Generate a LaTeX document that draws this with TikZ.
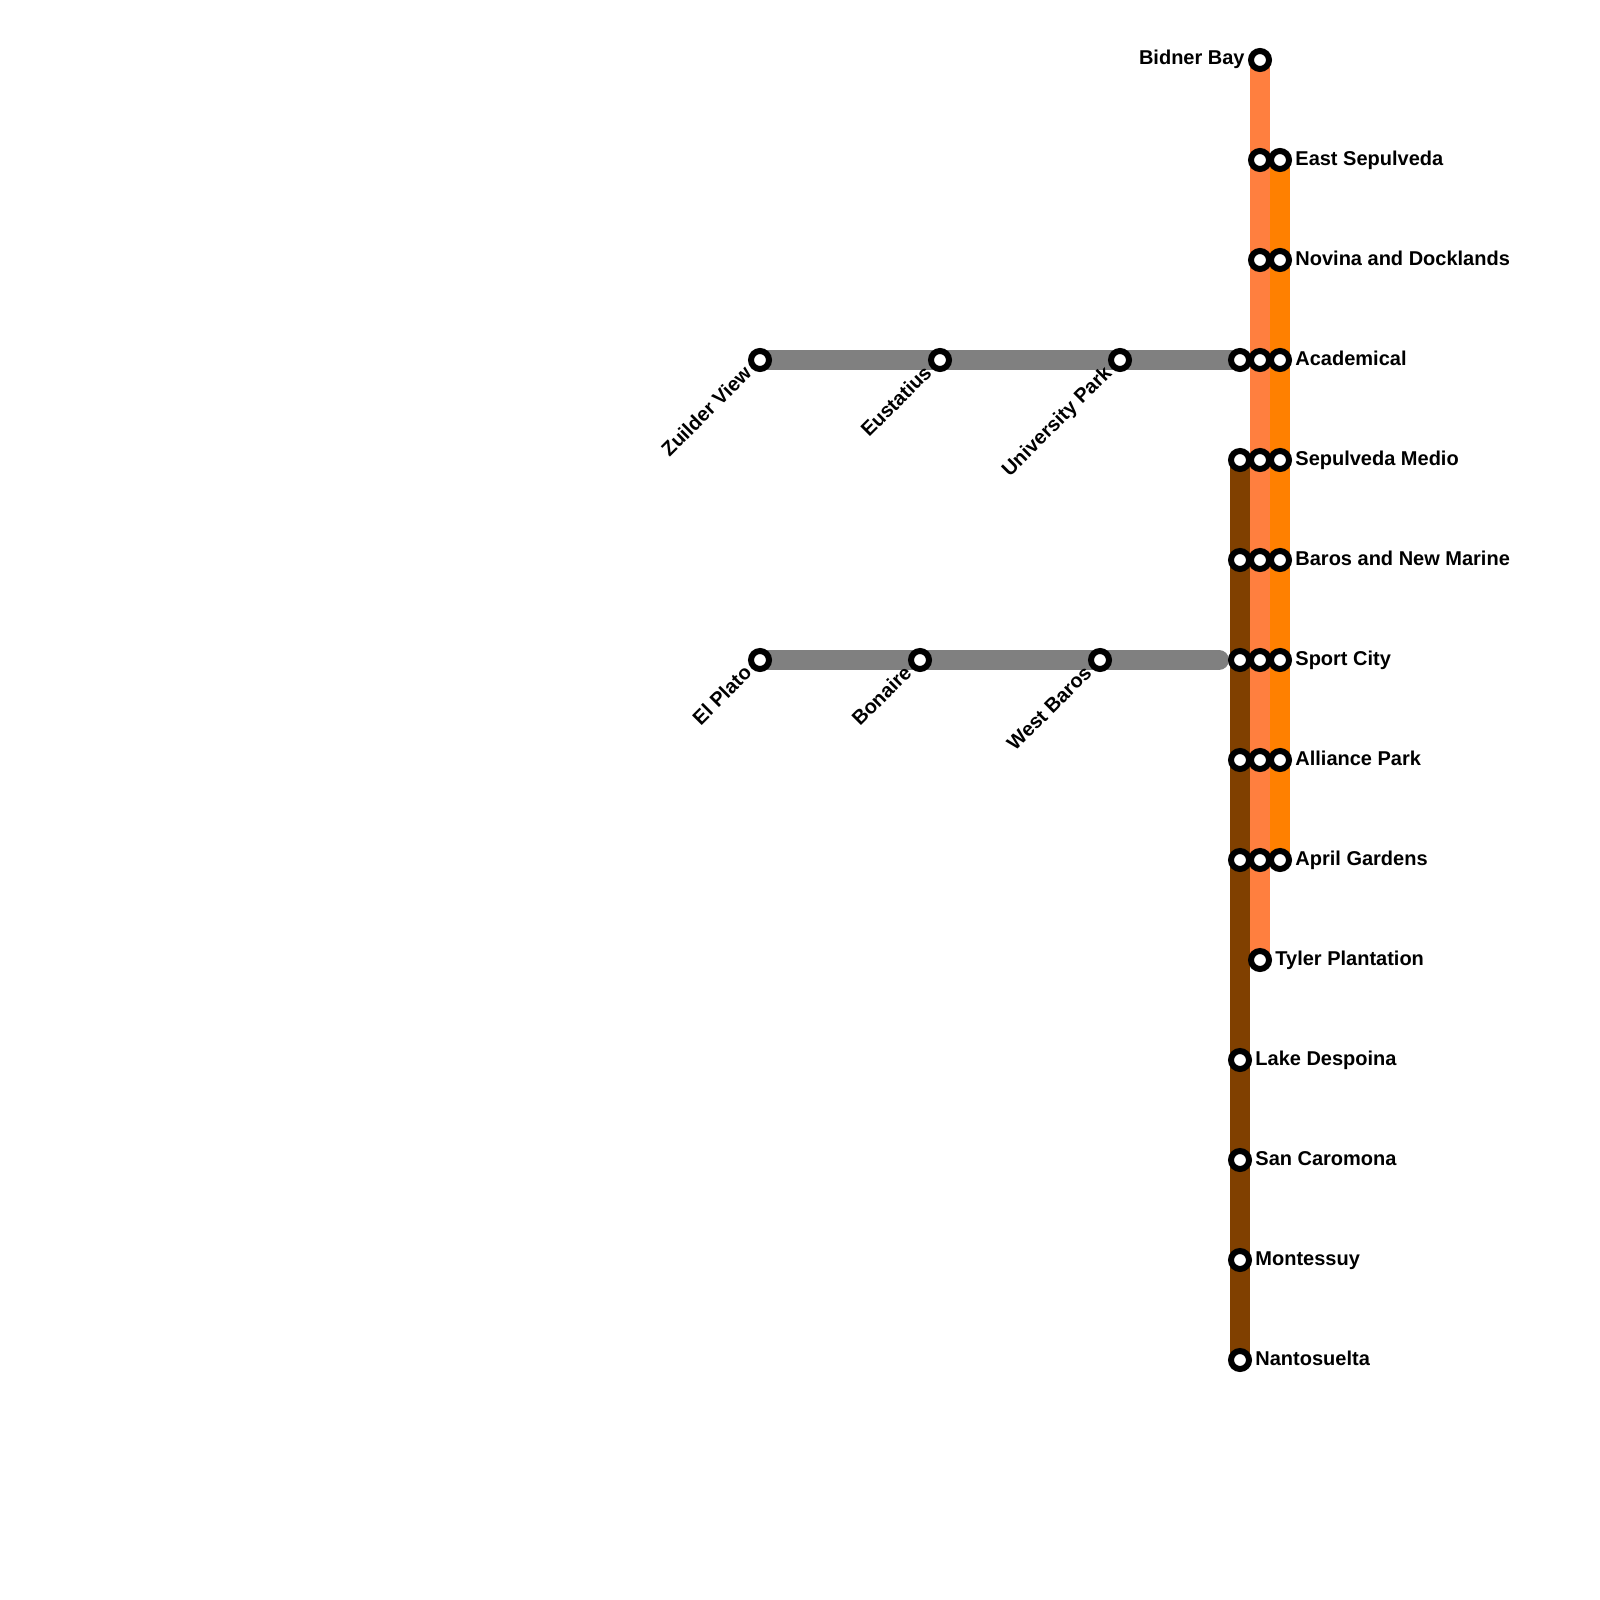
\documentclass[tikz,border=0pt]{standalone}
\usepackage{fontspec}
\setmainfont{Liberation Sans}
\usetikzlibrary{backgrounds}
\definecolor{brownline}{HTML}{804000}
\definecolor{coralline}{HTML}{FF7F3F}
\definecolor{orangeline}{HTML}{FF8000}
\definecolor{greyline}{HTML}{808080}
\tikzset{
  x=0.5pt,y=-0.5pt,
  stn/.style={circle,draw=black,fill=white,line width=3pt,minimum size=9pt,inner sep=0pt,outer sep=0pt},
  route/.style={line width=10pt,line cap=round},
  rlab/.style={anchor=base west,font=\bfseries\fontsize{10}{12}\selectfont,inner sep=0pt},
  llab/.style={anchor=base east,font=\bfseries\fontsize{10}{12}\selectfont,inner sep=0pt},
  dlab/.style={anchor=base east,rotate=45,font=\bfseries\fontsize{10}{12}\selectfont,inner sep=0pt},
}
\begin{document}
\begin{tikzpicture}
\useasboundingbox (0,0) rectangle (1600,1600);
% stations
\foreach \n/\x/\y in {
 b1/1240/460,b2/1240/560,b3/1240/660,b4/1240/760,b5/1240/860,b6/1240/1060,b7/1240/1160,b8/1240/1260,b9/1240/1360,
 c0/1260/60,c1/1260/160,c2/1260/260,c3/1260/360,c4/1260/460,c5/1260/560,c6/1260/660,c7/1260/760,c8/1260/860,c9/1260/960,
 o1/1280/160,o2/1280/260,o3/1280/360,o4/1280/460,o5/1280/560,o6/1280/660,o7/1280/760,o8/1280/860,
 g1/760/360,g2/940/360,g3/1120/360,g4/1240/360,
 h1/760/660,h2/920/660,h3/1100/660}
 {\node[stn] (\n) at (\x,\y) {};}
\coordinate (hend) at (1219,660);
\begin{pgfonlayer}{background}
\fill[white] (0,0) rectangle (1600,1600);
\draw[route,greyline] (g1.center) -- (g4.center);
\draw[route,greyline] (h1.center) -- (hend);
\draw[route,brownline] (b1.center) -- (b9.center);
\draw[route,coralline] (c0.center) -- (c9.center);
\draw[route,orangeline] (o1.center) -- (o8.center);
\end{pgfonlayer}
% labels
\node[llab] (lc0) at (1245,65) {Bidner Bay};
\node[rlab] (lo1) at (1295,165) {East Sepulveda};
\node[rlab] (lo2) at (1295,265) {Novina and Docklands};
\node[rlab] (lo3) at (1295,365) {Academical};
\node[rlab] (lo4) at (1295,465) {Sepulveda Medio};
\node[rlab] (lo5) at (1295,565) {Baros and New Marine};
\node[rlab] (lo6) at (1295,665) {Sport City};
\node[rlab] (lo7) at (1295,765) {Alliance Park};
\node[rlab] (lo8) at (1295,865) {April Gardens};
\node[rlab] (lc9) at (1275,965) {Tyler Plantation};
\node[rlab] (lb6) at (1255,1065) {Lake Despoina};
\node[rlab] (lb7) at (1255,1165) {San Caromona};
\node[rlab] (lb8) at (1255,1265) {Montessuy};
\node[rlab] (lb9) at (1255,1365) {Nantosuelta};
\node[dlab] (lg1) at (753,374) {Zuilder View};
\node[dlab] (lg2) at (933,374) {Eustatius};
\node[dlab] (lg3) at (1113,374) {University Park};
\node[dlab] (lh1) at (753,674) {El Plato};
\node[dlab] (lh2) at (913,674) {Bonaire};
\node[dlab] (lh3) at (1093,674) {West Baros};
\end{tikzpicture}
\end{document}
